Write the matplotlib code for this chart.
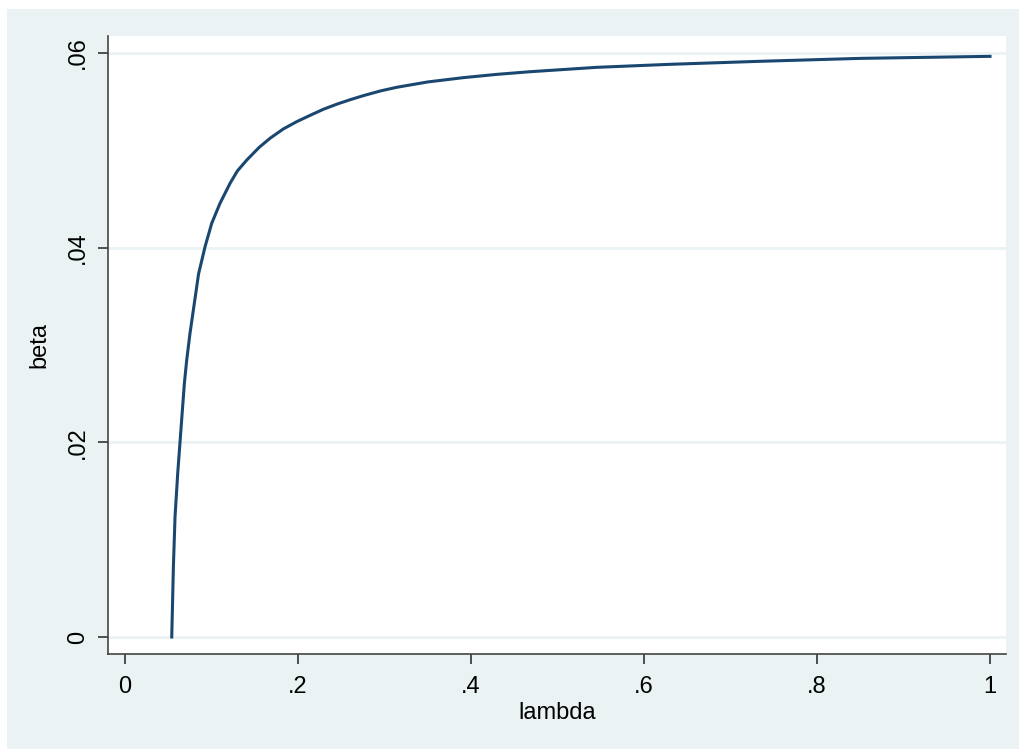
import matplotlib.pyplot as plt
from matplotlib.patches import Rectangle

# values
lam = [0.0540, 0.0559, 0.0578, 0.0609, 0.0636, 0.0663, 0.0686, 0.0713, 0.0751,
       0.0790, 0.0850, 0.0925, 0.1002, 0.1098, 0.1214, 0.1300, 0.1407, 0.1550,
       0.1676, 0.1830, 0.1985, 0.2140, 0.2293, 0.2450, 0.2601, 0.2755, 0.2950,
       0.3141, 0.3500, 0.3911, 0.4300, 0.4682, 0.5453, 0.6300, 0.7340, 0.8497,
       1.0000]
beta = [0.00000, 0.00722, 0.01236, 0.01682, 0.02007, 0.02332, 0.02606, 0.02846,
        0.03120, 0.03360, 0.03730, 0.04010, 0.04250, 0.04456, 0.04661, 0.04790,
        0.04900, 0.05030, 0.05124, 0.05220, 0.05295, 0.05360, 0.05422, 0.05475,
        0.05520, 0.05562, 0.05610, 0.05648, 0.05703, 0.05747, 0.05781, 0.05808,
        0.05853, 0.05884, 0.05915, 0.05945, 0.05966]

xticks = [0, 0.2, 0.4, 0.6, 0.8, 1.0]
xlabels = ["0", ".2", ".4", ".6", ".8", "1"]
yticks = [0, 0.02, 0.04, 0.06]
ylabels = ["0", ".02", ".04", ".06"]

bg = "#EAF2F3"
navy = "#1A476F"

plt.rcParams['font.family'] = ['Liberation Sans', 'DejaVu Sans']

fig = plt.figure(figsize=(10.2, 7.49), dpi=100)
fig.patch.set_facecolor("white")
# stata style outer panel
panel = Rectangle((7/1020, 0), 1 - 7/1020, (749 - 9)/749,
                  transform=fig.transFigure, facecolor=bg,
                  edgecolor="none", zorder=-10)
fig.add_artist(panel)

ax = fig.add_axes([108/1020, 1 - 654/749, 898/1020, 618/749])
ax.set_zorder(1)
ax.set_facecolor("white")
ax.plot(lam, beta, color=navy, lw=2.2, zorder=3, solid_joinstyle="round")

ax.set_xlim(-0.0197, 1.0185)
ax.set_ylim(-0.00175, 0.06175)
ax.set_xticks(xticks)
ax.set_xticklabels(xlabels, fontsize=17)
ax.set_yticks(yticks)
ax.set_yticklabels(ylabels, fontsize=17, rotation=90, va="center")
ax.grid(axis="y", color=bg, lw=2)
ax.set_axisbelow(True)
ax.tick_params(axis="both", direction="out", length=7.5, width=1.2, color="#333333")
ax.tick_params(axis="x", pad=8)
ax.tick_params(axis="y", pad=6)

for s in ["top", "right"]:
    ax.spines[s].set_visible(False)
for s in ["left", "bottom"]:
    ax.spines[s].set_color("#444444")
    ax.spines[s].set_linewidth(1.2)

ax.set_xlabel("lambda", fontsize=17, labelpad=3)
ax.set_ylabel("beta", fontsize=17, labelpad=12)

fig.savefig("out.png", dpi=100)
